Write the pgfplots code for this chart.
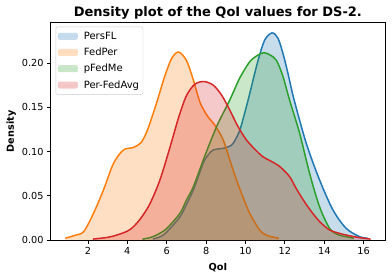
\documentclass[border=0pt]{standalone}
\usepackage{fontspec}
\setmainfont{DejaVu Sans}
\usepackage{pgfplots}
\pgfplotsset{compat=1.18}
\definecolor{tabblue}{HTML}{1F77B4}
\definecolor{taborange}{HTML}{FF7F0E}
\definecolor{tabgreen}{HTML}{2CA02C}
\definecolor{tabred}{HTML}{D62728}
\begin{document}
\begin{tikzpicture}
\begin{axis}[
  scale only axis, width=334.8pt, height=217.3pt,
  xmin=0.1, xmax=17.1, ymin=0, ymax=0.2455,
  xtick={2,4,...,16}, ytick={0,0.05,0.1,0.15,0.2},
  yticklabel style={/pgf/number format/.cd, fixed, fixed zerofill, precision=2},
  /pgf/number format/assume math mode=true,
  tick align=outside, tick pos=left, major tick length=3.5pt,
  tick style={black, line width=0.8pt},
  axis line style={line width=0.8pt},
  tick label style={font=\fontsize{9.7}{11.5}\selectfont},
  title={\bfseries Density plot of the QoI values for DS-2.},
  every axis title/.style={at={([yshift=6.5pt]rel axis cs:0.5,1)}, anchor=base, font=\fontsize{13}{15}\selectfont},
  xlabel={\bfseries QoI}, ylabel={\bfseries Density},
  every axis x label/.style={at={([yshift=-30pt]rel axis cs:0.5,0)}, anchor=base, font=\fontsize{9.7}{11.5}\selectfont},
  every axis y label/.style={at={([xshift=-39.3pt]rel axis cs:0,0.5)}, anchor=center, rotate=90, font=\fontsize{9.7}{11.5}\selectfont},
  legend cell align=left,
  legend style={at={(0.0155,0.9816)}, anchor=north west, draw=black!20, rounded corners=2pt,
    font=\fontsize{10}{12}\selectfont, row sep=3.2pt, inner xsep=2pt, inner ysep=3pt},
  legend image code/.code={\fill[#1] (0pt,-3.5pt) rectangle (20pt,3.5pt); \path (0pt,0pt) -- (24pt,0pt);},
  every axis plot/.append style={smooth},
]
\coordinate (sw) at (rel axis cs:0,0);
\coordinate (ne) at (rel axis cs:1,1);
% PersFL
\addplot[draw=none, fill=tabblue, fill opacity=0.25] coordinates {
(5.3,0.001)(5.7,0.004)(6.0,0.009)(6.67,0.026)(7.0,0.040)(7.35,0.0565)(7.85,0.0866)(8.1,0.096)(8.36,0.1017)(8.87,0.1036)(9.2,0.106)(9.4,0.110)(9.71,0.124)(10.05,0.151)(10.3,0.173)(10.64,0.203)(10.98,0.226)(11.35,0.234)(11.65,0.228)(11.9,0.211)(12.16,0.188)(12.45,0.160)(13.09,0.109)(13.76,0.068)(14.44,0.034)(15.11,0.0132)(15.79,0.0038)(16.2,0.002)
} \closedcycle;
\addlegendentry{PersFL}
\addplot[forget plot, tabblue, line width=1.5pt] coordinates {
(5.3,0.001)(5.7,0.004)(6.0,0.009)(6.67,0.026)(7.0,0.040)(7.35,0.0565)(7.85,0.0866)(8.1,0.096)(8.36,0.1017)(8.87,0.1036)(9.2,0.106)(9.4,0.110)(9.71,0.124)(10.05,0.151)(10.3,0.173)(10.64,0.203)(10.98,0.226)(11.35,0.234)(11.65,0.228)(11.9,0.211)(12.16,0.188)(12.45,0.160)(13.09,0.109)(13.76,0.068)(14.44,0.034)(15.11,0.0132)(15.79,0.0038)(16.2,0.002)
};
% FedPer
\addplot[draw=none, fill=taborange, fill opacity=0.25] coordinates {
(0.85,0.002)(1.3,0.005)(1.78,0.0094)(2.28,0.030)(2.79,0.0565)(3.3,0.0866)(3.8,0.1017)(4.3,0.1045)(4.7,0.110)(5.0,0.123)(5.3,0.142)(5.6,0.163)(5.9,0.185)(6.25,0.205)(6.6,0.2124)(7.0,0.203)(7.35,0.181)(7.7,0.155)(8.1,0.139)(8.4,0.131)(8.87,0.113)(9.37,0.079)(9.8,0.0527)(10.22,0.030)(10.72,0.0113)(11.1,0.005)(11.7,0.002)
} \closedcycle;
\addlegendentry{FedPer}
\addplot[forget plot, taborange, line width=1.5pt] coordinates {
(0.85,0.002)(1.3,0.005)(1.78,0.0094)(2.28,0.030)(2.79,0.0565)(3.3,0.0866)(3.8,0.1017)(4.3,0.1045)(4.7,0.110)(5.0,0.123)(5.3,0.142)(5.6,0.163)(5.9,0.185)(6.25,0.205)(6.6,0.2124)(7.0,0.203)(7.35,0.181)(7.7,0.155)(8.1,0.139)(8.4,0.131)(8.87,0.113)(9.37,0.079)(9.8,0.0527)(10.22,0.030)(10.72,0.0113)(11.1,0.005)(11.7,0.002)
};
% pFedMe
\addplot[draw=none, fill=tabgreen, fill opacity=0.25] coordinates {
(4.77,0.001)(5.2,0.003)(5.6,0.007)(6.0,0.013)(6.67,0.030)(7.0,0.045)(7.35,0.060)(7.85,0.090)(8.2,0.110)(8.53,0.128)(8.7,0.136)(9.2,0.158)(9.71,0.183)(10.22,0.2015)(10.64,0.209)(10.94,0.2116)(11.25,0.209)(11.57,0.203)(11.9,0.185)(12.24,0.158)(12.75,0.1206)(13.26,0.075)(13.76,0.0377)(14.27,0.0132)(14.7,0.006)(15.11,0.0038)(15.5,0.002)
} \closedcycle;
\addlegendentry{pFedMe}
\addplot[forget plot, tabgreen, line width=1.5pt] coordinates {
(4.77,0.001)(5.2,0.003)(5.6,0.007)(6.0,0.013)(6.67,0.030)(7.0,0.045)(7.35,0.060)(7.85,0.090)(8.2,0.110)(8.53,0.128)(8.7,0.136)(9.2,0.158)(9.71,0.183)(10.22,0.2015)(10.64,0.209)(10.94,0.2116)(11.25,0.209)(11.57,0.203)(11.9,0.185)(12.24,0.158)(12.75,0.1206)(13.26,0.075)(13.76,0.0377)(14.27,0.0132)(14.7,0.006)(15.11,0.0038)(15.5,0.002)
};
% Per-FedAvg
\addplot[draw=none, fill=tabred, fill opacity=0.25] coordinates {
(2.25,0.001)(3.0,0.003)(3.47,0.0056)(4.0,0.010)(4.31,0.015)(4.7,0.025)(5.15,0.041)(5.66,0.068)(6.17,0.105)(6.6,0.138)(7.0,0.163)(7.43,0.176)(7.89,0.179)(8.36,0.175)(8.78,0.164)(9.2,0.147)(9.6,0.129)(10.05,0.113)(10.5,0.102)(10.89,0.094)(11.3,0.089)(11.74,0.083)(12.24,0.0716)(12.58,0.058)(13.0,0.043)(13.42,0.030)(13.8,0.020)(14.27,0.0113)(14.7,0.008)(15.11,0.0056)(15.7,0.003)(16.35,0.001)
} \closedcycle;
\addlegendentry{Per-FedAvg}
\addplot[forget plot, tabred, line width=1.5pt] coordinates {
(2.25,0.001)(3.0,0.003)(3.47,0.0056)(4.0,0.010)(4.31,0.015)(4.7,0.025)(5.15,0.041)(5.66,0.068)(6.17,0.105)(6.6,0.138)(7.0,0.163)(7.43,0.176)(7.89,0.179)(8.36,0.175)(8.78,0.164)(9.2,0.147)(9.6,0.129)(10.05,0.113)(10.5,0.102)(10.89,0.094)(11.3,0.089)(11.74,0.083)(12.24,0.0716)(12.58,0.058)(13.0,0.043)(13.42,0.030)(13.8,0.020)(14.27,0.0113)(14.7,0.008)(15.11,0.0056)(15.7,0.003)(16.35,0.001)
};
\end{axis}
\pgfresetboundingbox
\useasboundingbox ([shift={(-50.5pt,-38pt)}]sw) rectangle ([shift={(6.7pt,22.7pt)}]ne);
\end{tikzpicture}
\end{document}
